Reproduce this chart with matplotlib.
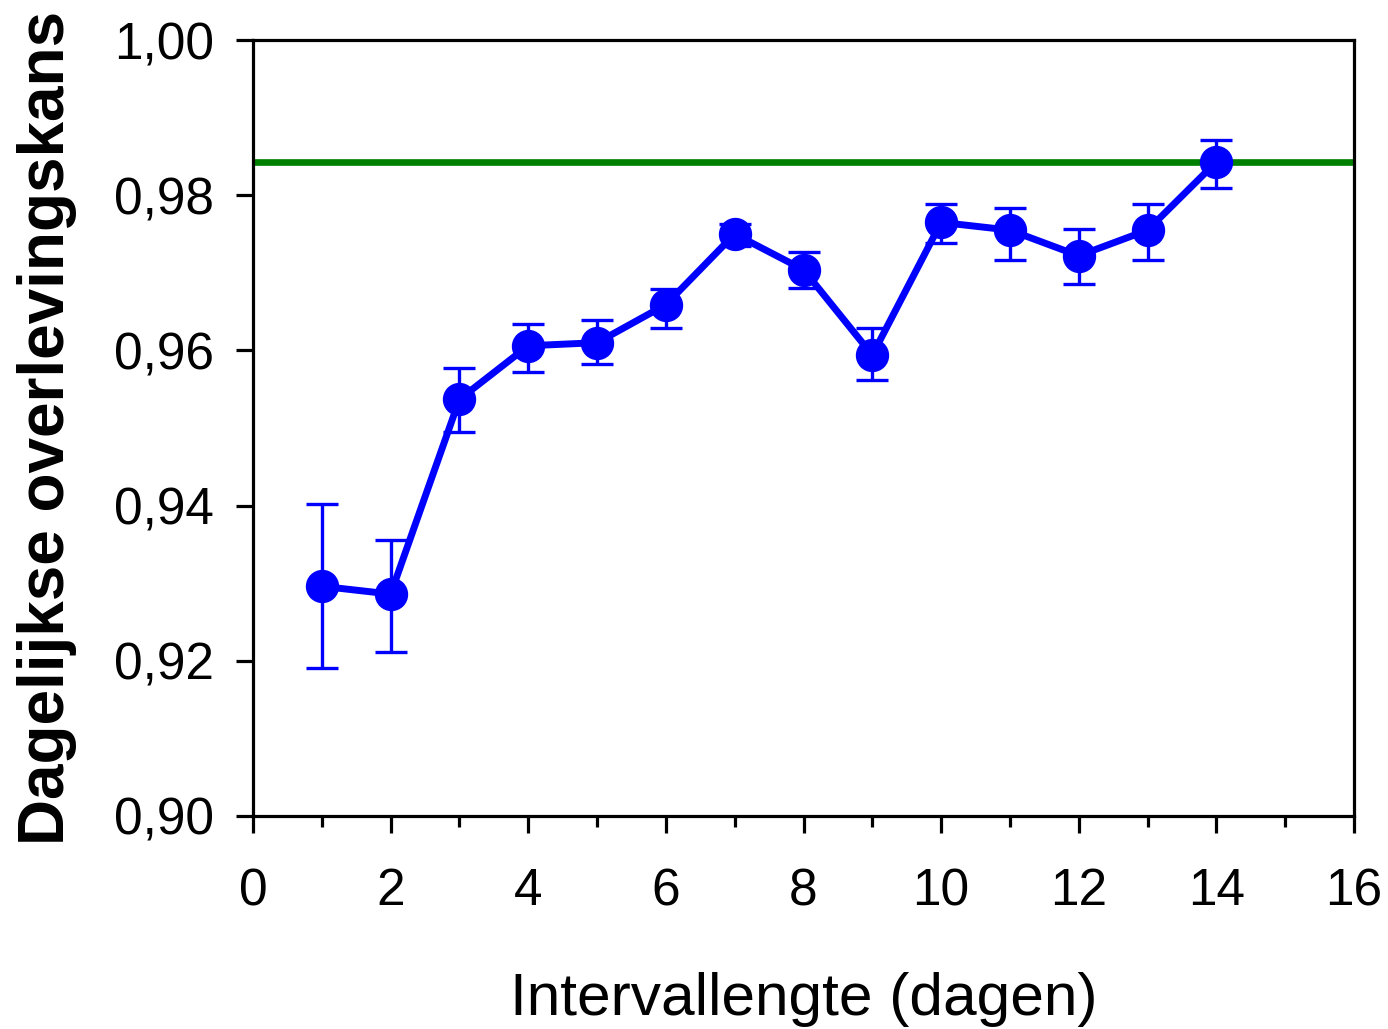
import numpy as np
import matplotlib.pyplot as plt
from matplotlib.ticker import MultipleLocator, FuncFormatter

plt.rcParams['font.family'] = ['Liberation Sans', 'DejaVu Sans']

# data
interval = [1, 2, 3, 4, 5, 6, 7, 8, 9, 10, 11, 12, 13, 14]
survival = [0.9296, 0.9286, 0.9537, 0.9606, 0.9610, 0.9659, 0.9750,
            0.9704, 0.9594, 0.9765, 0.9755, 0.9722, 0.9755, 0.9843]
err_upper = [0.9402, 0.9356, 0.9577, 0.9634, 0.9639, 0.9679, 0.9763,
             0.9727, 0.9629, 0.9789, 0.9784, 0.9756, 0.9789, 0.9871]
err_lower = [0.9191, 0.9211, 0.9495, 0.9572, 0.9582, 0.9629, 0.9735,
             0.9680, 0.9562, 0.9738, 0.9716, 0.9686, 0.9716, 0.9809]
reference_level = 0.9843

survival = np.array(survival)
yerr = [survival - np.array(err_lower), np.array(err_upper) - survival]

fig = plt.figure(figsize=(13.88, 10.29), dpi=100)
ax = fig.add_axes([0.1823, 0.207, 0.7932, 0.7541])

ax.axhline(reference_level, color='#008000', lw=4.8, solid_capstyle='round', zorder=2)
ax.errorbar(interval, survival, yerr=yerr, color='blue', lw=5, marker='o',
            markersize=23, elinewidth=2.4, capsize=11.5, capthick=2.4, zorder=3)

ax.set_xlim(0, 16)
ax.set_ylim(0.90, 1.00)
ax.xaxis.set_major_locator(MultipleLocator(2))
ax.xaxis.set_minor_locator(MultipleLocator(1))
ax.yaxis.set_major_locator(MultipleLocator(0.02))
ax.yaxis.set_major_formatter(FuncFormatter(lambda v, p: f'{v:.2f}'.replace('.', ',')))

for s in ax.spines.values():
    s.set_linewidth(2.3)
ax.tick_params(axis='both', which='major', direction='out', length=12, width=2.3,
               labelsize=37, pad=16)
ax.tick_params(axis='x', which='minor', direction='out', length=8, width=2.3)
ax.tick_params(axis='x', which='major', pad=25)

ax.set_xlabel('Intervallengte (dagen)', fontsize=43.5, labelpad=40)
ax.set_ylabel('Dagelijkse overlevingskans', fontsize=46, fontweight='bold', labelpad=27)

fig.savefig('out.png', dpi=100)
